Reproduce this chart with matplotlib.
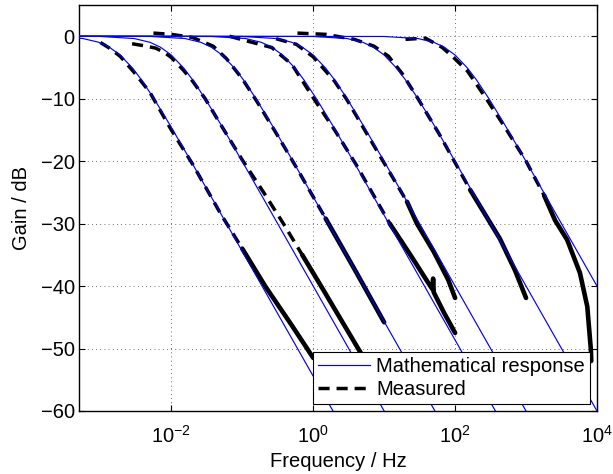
import matplotlib
matplotlib.use("Agg")
import matplotlib.pyplot as plt
from matplotlib.ticker import LogFormatterSciNotation, FixedLocator, NullLocator

plt.rcParams['font.family'] = ['Liberation Sans', 'DejaVu Sans']
plt.rcParams['mathtext.fontset'] = 'custom'
plt.rcParams['mathtext.rm'] = 'Liberation Sans'
plt.rcParams['mathtext.it'] = 'Liberation Sans:italic'
plt.rcParams['mathtext.bf'] = 'Liberation Sans:bold'

# ---------------- data ----------------
# Mathematical responses: shared gain samples (dB) and per-curve frequencies (Hz)
math_gain_db = [0.0, -0.04, -0.37, -0.97, -1.74, -3.01, -5.12, -6.99, -10.0, -14.15, -20.04, -40.0, -60.0, -80.0]
math_freq_1 = [1e-4, 1.9e-4, 5.7e-4, 9.5e-4, 1.33e-3, 1.9e-3, 2.85e-3, 3.8e-3, 5.7e-3, 9.5e-3, 1.9e-2, 0.19, 1.9, 19]
math_freq_2 = [1e-4, 1e-3, 3e-3, 5e-3, 7e-3, 0.01, 0.015, 0.02, 0.03, 0.05, 0.1, 1, 10, 100]
math_freq_3 = [1e-4, 5.2e-3, 0.0156, 0.026, 0.0364, 0.052, 0.078, 0.104, 0.156, 0.26, 0.52, 5.2, 52, 520]
math_freq_4 = [1e-4, 0.037, 0.111, 0.185, 0.259, 0.37, 0.555, 0.74, 1.11, 1.85, 3.7, 37, 370, 3700]
math_freq_5 = [1e-4, 0.1, 0.3, 0.5, 0.7, 1, 1.5, 2, 3, 5, 10, 100, 1000, 10000]
math_freq_6 = [1e-4, 1, 3, 5, 7, 10, 15, 20, 30, 50, 100, 1000, 1e4, 1e5]
math_freq_7 = [1e-4, 10, 30, 50, 70, 100, 150, 200, 300, 500, 1000, 1e4, 1e5, 1e6]

# Measured responses
meas_freq_1 = [1e-3, 1.3e-3, 1.9e-3, 3e-3, 5e-3, 1e-2, 2e-2, 5e-2, 0.1, 0.21, 0.5, 0.82, 1.0]
meas_gain_1 = [-1.0, -1.8, -3.2, -5.8, -9.0, -15.0, -20.5, -28.5, -34.0, -40.0, -46.3, -50.0, -51.5]
meas_freq_2 = [2.8e-3, 4e-3, 6e-3, 8e-3, 0.01, 0.015, 0.02, 0.03, 0.05, 0.1, 0.2, 0.38, 0.7, 1.29, 2.5, 4.3, 5.5]
meas_gain_2 = [-1.2, -1.5, -1.9, -2.6, -3.4, -5.5, -7.2, -10.0, -14.2, -19.8, -25.0, -30.0, -35.0, -40.0, -45.5, -50.0, -52.0]
meas_freq_3 = [5.6e-3, 0.01, 0.02, 0.039, 0.06, 0.1, 0.16, 0.3, 0.6, 1.5, 4, 10]
meas_gain_3 = [0.5, 0.3, -0.2, -1.6, -3.6, -6.8, -10.4, -15.5, -21.3, -29.2, -37.7, -45.8]
meas_freq_4 = [0.066, 0.12, 0.26, 0.5, 1.02, 2, 4, 12, 25, 44.7, 48, 49, 50, 70, 100]
meas_gain_4 = [0.0, -0.8, -1.8, -4.5, -10.0, -15.0, -20.5, -30.0, -35.5, -40.0, -40.5, -38.8, -41.0, -44.3, -47.5]
meas_freq_5 = [0.3, 0.58, 1.0, 2.0, 3.0, 5.0, 10, 21, 29, 50, 80, 100]
meas_gain_5 = [-0.4, -1.3, -3.3, -7.2, -10.2, -14.5, -20.3, -26.5, -30.0, -34.5, -39.0, -41.9]
meas_freq_6 = [0.6, 1.5, 3.8, 7.2, 11.5, 18, 30, 60, 163, 427, 700, 1000]
meas_gain_6 = [0.5, 0.3, -0.5, -1.6, -3.2, -6.0, -10.0, -15.7, -24.6, -32.4, -37.5, -41.9]
meas_freq_7 = [20, 38, 66, 95, 150, 275, 500, 1000, 1800, 2570, 3800, 5750, 7300, 7980, 8200, 8300]
meas_gain_7 = [-0.5, -0.3, -1.8, -3.4, -5.6, -10.0, -14.5, -20.0, -25.5, -29.5, -32.6, -37.9, -43.3, -48.6, -50.2, -52.0]

# index where each measured trace becomes dense (drawn solid-looking)
dense_start = [8, 12, 9, 7, 7, 8, 8]

x_ticks = [1e-2, 1e0, 1e2, 1e4]
y_ticks = [-60, -50, -40, -30, -20, -10, 0]

math_freqs = [math_freq_1, math_freq_2, math_freq_3, math_freq_4, math_freq_5, math_freq_6, math_freq_7]
meas = [(meas_freq_1, meas_gain_1), (meas_freq_2, meas_gain_2), (meas_freq_3, meas_gain_3),
        (meas_freq_4, meas_gain_4), (meas_freq_5, meas_gain_5), (meas_freq_6, meas_gain_6),
        (meas_freq_7, meas_gain_7)]

# ---------------- figure ----------------
W, H = 613, 474
fig = plt.figure(figsize=(W / 100, H / 100), dpi=100)
ax = fig.add_axes([79 / W, 1 - 411 / H, (597 - 79) / W, (411 - 5) / H])
ax.set_xscale('log')

FS = 14.5
meas_handle = None
for (f, g), k in zip(meas, dense_start):
    h, = ax.plot(f[:k + 1], g[:k + 1], color='black', lw=2.5, linestyle=(0, (3.2, 2.0)),
                 solid_capstyle='butt', dash_capstyle='butt', zorder=2)
    ax.plot(f[k:], g[k:], color='black', lw=3.3, solid_capstyle='round', zorder=2)
    if meas_handle is None:
        meas_handle = h

math_handle = None
for f in math_freqs:
    h, = ax.plot(f, math_gain_db, color='#0000ff', lw=0.85, zorder=3)
    if math_handle is None:
        math_handle = h

ax.set_xlim(5e-4, 1e4)
ax.set_ylim(-60, 5)
ax.xaxis.set_major_locator(FixedLocator(x_ticks))
ax.xaxis.set_major_formatter(LogFormatterSciNotation())
ax.xaxis.set_minor_locator(NullLocator())
ax.set_yticks(y_ticks)

ax.grid(True, which='major', color='0.25', linestyle=(0, (1, 4)), linewidth=0.6)
ax.set_axisbelow(True)
ax.tick_params(direction='in', top=True, right=True, length=4.5, width=0.8, labelsize=FS)
ax.tick_params(axis='x', pad=10)
ax.tick_params(axis='y', pad=3)
for s in ax.spines.values():
    s.set_linewidth(1.0)

ax.set_xlabel('Frequency / Hz', fontsize=FS, labelpad=4)
ax.set_ylabel('Gain / dB', fontsize=FS, labelpad=7)

leg = ax.legend([math_handle, meas_handle], ['Mathematical response', 'Measured'],
                loc='lower right', fontsize=FS, frameon=True, fancybox=False,
                framealpha=1, edgecolor='black', borderpad=0.25, labelspacing=0.2,
                handlelength=2.6, handletextpad=0.3, borderaxespad=0.35)
leg.get_frame().set_linewidth(0.8)
leg.set_zorder(5)

fig.savefig('out.png', dpi=100)
